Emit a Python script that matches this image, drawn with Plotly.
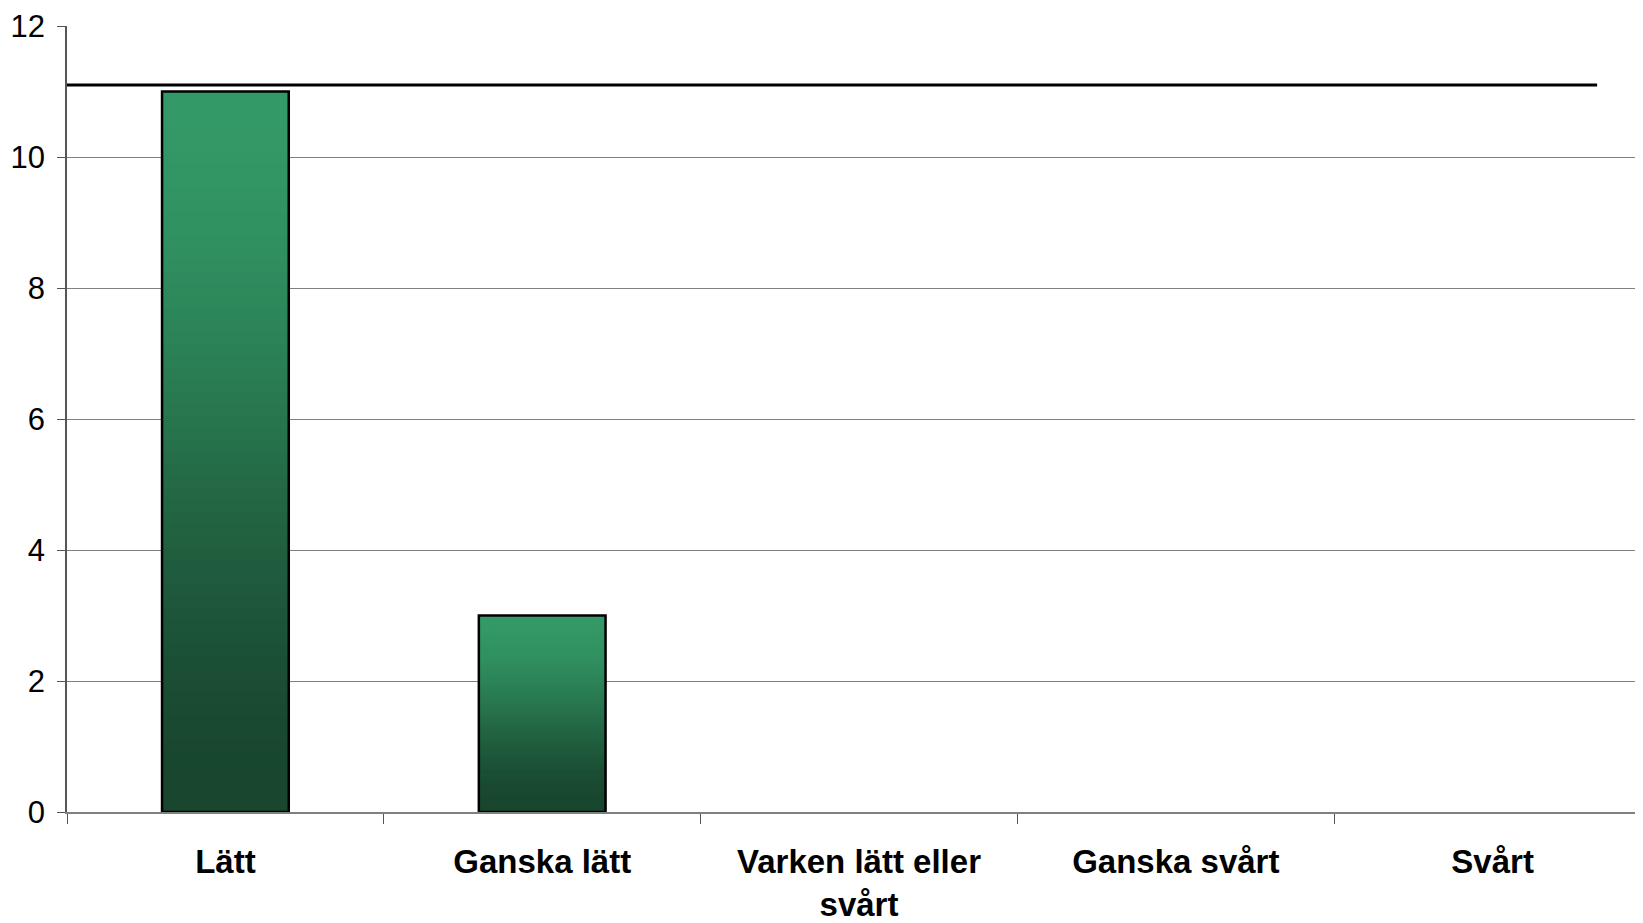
import plotly.graph_objects as go

categories = ["Lätt", "Ganska lätt", "Varken lätt eller<br>svårt", "Ganska svårt", "Svårt"]
counts = [11, 3, 0, 0, 0]
reference_level = 11.1
y_ticks = [0, 2, 4, 6, 8, 10, 12]

TOP = (51, 153, 102)
BOTTOM = (24, 70, 46)
N_STEPS = 60

fig = go.Figure()

# vertical gradient fill: bars split into overlapping slices, drawn bottom-up
for k in range(N_STEPS):
    t = (k + 0.5) / N_STEPS
    s = t * t * (3 - 2 * t)
    rgb = [round(b + (a - b) * s) for a, b in zip(TOP, BOTTOM)]
    span = min(2, N_STEPS - k) / N_STEPS
    fig.add_trace(
        go.Bar(
            x=categories,
            y=[v * span for v in counts],
            base=[v * k / N_STEPS for v in counts],
            width=0.4,
            marker=dict(color=f"rgb({rgb[0]},{rgb[1]},{rgb[2]})", line=dict(width=0)),
            hoverinfo="skip",
            showlegend=False,
        )
    )

# outline (empty categories get no box)
fig.add_trace(
    go.Bar(
        x=categories,
        y=[v if v else None for v in counts],
        width=0.4,
        marker=dict(color="rgba(0,0,0,0)", line=dict(color="black", width=2.5)),
        showlegend=False,
    )
)

fig.add_shape(
    type="line", xref="x", yref="y",
    x0=-0.513, x1=4.33, y0=reference_level, y1=reference_level,
    line=dict(color="black", width=3),
)

fig.update_layout(
    width=1643,
    height=923,
    barmode="overlay",
    plot_bgcolor="white",
    paper_bgcolor="white",
    margin=dict(l=59, r=0, t=18, b=119, autoexpand=False),
    font=dict(family="Arial, Liberation Sans, sans-serif", color="black"),
)
fig.update_xaxes(
    range=[-0.5, 4.5],
    showline=True,
    linecolor="#808080",
    linewidth=2,
    ticks="outside",
    tickson="boundaries",
    ticklen=10,
    tickcolor="#555555",
    tickfont=dict(size=33, family="Liberation Sans, Arial", weight="bold"),
    ticklabelstandoff=19,
    showgrid=False,
)
fig.update_yaxes(
    range=[0, 12],
    tickvals=y_ticks,
    showline=True,
    linecolor="#555555",
    linewidth=1.5,
    ticks="outside",
    ticklen=8,
    tickcolor="#555555",
    tickfont=dict(size=31),
    ticklabelstandoff=6,
    showgrid=True,
    gridcolor="#808080",
    gridwidth=1,
    zeroline=False,
)

fig.write_html("out.html")
